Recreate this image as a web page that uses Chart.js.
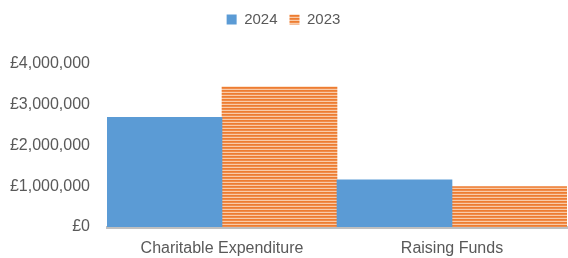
<!DOCTYPE html>
<html>
<head>
<meta charset="utf-8">
<script src="https://cdn.jsdelivr.net/npm/chart.js@4"></script>
<style>
  html, body { margin: 0; padding: 0; background: #fff; }
  #wrap { width: 568px; height: 258px; }
</style>
</head>
<body>
<div id="wrap"><canvas id="chart" width="568" height="258"></canvas></div>
<script>
var categories = ['Charitable Expenditure', 'Raising Funds'];
var values2024 = [2690000, 1160000];
var values2023 = [3440000, 990000];
var yTicks = [0, 1000000, 2000000, 3000000, 4000000];

// horizontal stripe fill for the 2023 bars
function stripes() {
  var c = document.createElement('canvas');
  c.width = 4; c.height = 3;
  var g = c.getContext('2d');
  var rows = ['#ED7D31', '#F08C4B', '#F9CBA8'];
  rows.forEach(function(col, i) {
    g.fillStyle = col;
    g.fillRect(0, i, 4, 1);
  });
  return g.createPattern(c, 'repeat');
}
var orangeFill = stripes();

// extra room under the legend
var legendGap = {
  id: 'legendGap',
  beforeInit: function(chart) {
    var fit = chart.legend.fit;
    chart.legend.fit = function() {
      fit.bind(chart.legend)();
      this.height += 27;
    };
  }
};

var ctx = document.getElementById('chart');
var myChart = new Chart(ctx, {
  type: 'bar',
  data: {
    labels: categories,
    datasets: [
      { label: '2024', data: values2024, backgroundColor: '#5B9BD5', borderWidth: 0 },
      { label: '2023', data: values2023, backgroundColor: orangeFill, borderWidth: 0 }
    ]
  },
  plugins: [legendGap],
  options: {
    responsive: false,
    animation: false,
    devicePixelRatio: 1,
    layout: { padding: { left: 0, right: 1, top: 0, bottom: 0 } },
    datasets: { bar: { categoryPercentage: 1, barPercentage: 1 } },
    plugins: {
      tooltip: { enabled: false },
      legend: {
        position: 'top',
        labels: {
          boxWidth: 10, boxHeight: 10, padding: 12,
          color: '#595959',
          font: { family: 'Liberation Sans', size: 15 }
        }
      }
    },
    scales: {
      x: {
        afterFit: function(axis) { axis.height = 31; },
        grid: { display: false, drawTicks: false },
        border: { display: true, color: '#BFBFBF', width: 3 },
        ticks: {
          color: '#595959', padding: 12,
          font: { family: 'Liberation Sans', size: 16 }
        }
      },
      y: {
        min: 0, max: 4000000,
        afterBuildTicks: function(axis) {
          axis.ticks = yTicks.map(function(v) { return { value: v }; });
        },
        afterFit: function(axis) { axis.width = 107; },
        grid: { display: false, drawTicks: false },
        border: { display: false },
        ticks: {
          color: '#595959', padding: 17,
          font: { family: 'Liberation Sans', size: 16 },
          callback: function(v) { return '£' + v.toLocaleString('en-GB'); }
        }
      }
    }
  }
});
</script>
</body>
</html>
